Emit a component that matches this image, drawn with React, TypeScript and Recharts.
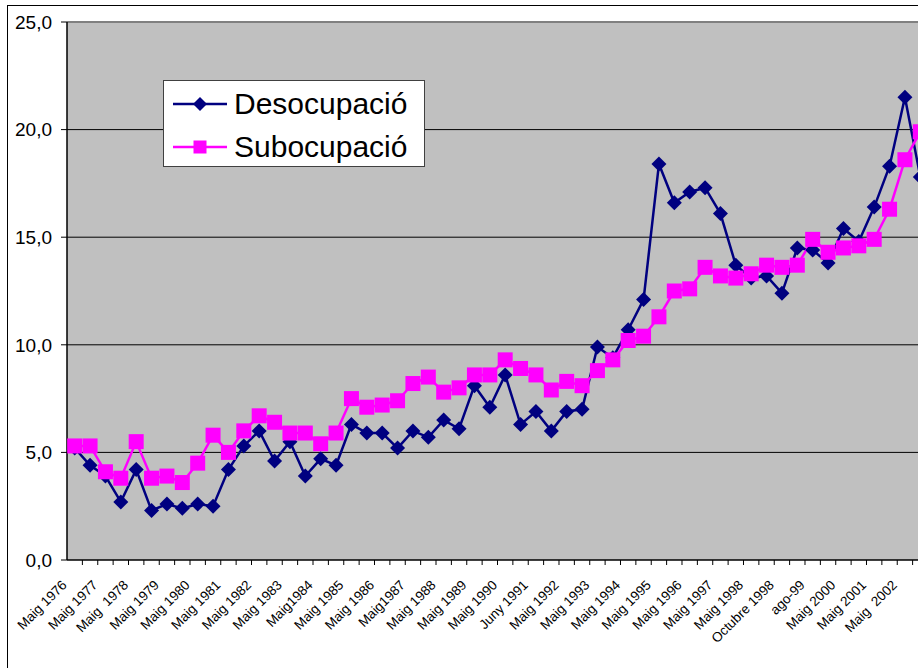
import React from "react";
import { LineChart, Line, XAxis, YAxis, CartesianGrid, ReferenceLine } from "recharts";

const periods = [
  "Maig 1976", "Octubre 1976", "Maig 1977", "Octubre 1977", "Maig  1978", "Octubre 1978",
  "Maig 1979", "Octubre 1979", "Maig 1980", "Octubre 1980", "Maig 1981", "Octubre 1981",
  "Maig 1982", "Octubre 1982", "Maig 1983", "Octubre 1983", "Maig1984", "Octubre 1984",
  "Maig 1985", "Octubre 1985", "Maig 1986", "Octubre 1986", "Maig1987", "Octubre 1987",
  "Maig 1988", "Octubre 1988", "Maig 1989", "Octubre 1989", "Maig 1990", "Octubre 1990",
  "Juny 1991", "Octubre 1991", "Maig 1992", "Octubre 1992", "Maig 1993", "Octubre 1993",
  "Maig 1994", "Octubre 1994", "Maig 1995", "Octubre 1995", "Maig 1996", "Octubre 1996",
  "Maig 1997", "Octubre 1997", "Maig 1998", "Agost 1998", "Octubre 1998", "Maig 1999",
  "ago-99", "Octubre 1999", "Maig 2000", "Octubre 2000", "Maig 2001", "Octubre 2001",
  "Maig  2002", "Octubre 2002",
];

const desocupacio = [
  5.2, 4.4, 3.9, 2.7, 4.2, 2.3, 2.6, 2.4, 2.6, 2.5, 4.2, 5.3, 6.0, 4.6, 5.5, 3.9,
  4.7, 4.4, 6.3, 5.9, 5.9, 5.2, 6.0, 5.7, 6.5, 6.1, 8.1, 7.1, 8.6, 6.3, 6.9, 6.0,
  6.9, 7.0, 9.9, 9.4, 10.7, 12.1, 18.4, 16.6, 17.1, 17.3, 16.1, 13.7, 13.1, 13.2,
  12.4, 14.5, 14.4, 13.8, 15.4, 14.8, 16.4, 18.3, 21.5, 17.8,
];

const subocupacio = [
  5.3, 5.3, 4.1, 3.8, 5.5, 3.8, 3.9, 3.6, 4.5, 5.8, 5.0, 6.0, 6.7, 6.4, 5.9, 5.9,
  5.4, 5.9, 7.5, 7.1, 7.2, 7.4, 8.2, 8.5, 7.8, 8.0, 8.6, 8.6, 9.3, 8.9, 8.6, 7.9,
  8.3, 8.1, 8.8, 9.3, 10.2, 10.4, 11.3, 12.5, 12.6, 13.6, 13.2, 13.1, 13.3, 13.7,
  13.6, 13.7, 14.9, 14.3, 14.5, 14.6, 14.9, 16.3, 18.6, 19.9,
];

const yTicks = [0, 5, 10, 15, 20, 25];

const data = periods.map((p, i) => ({ periode: p, des: desocupacio[i], sub: subocupacio[i] }));

const NAVY = "#000080";
const MAGENTA = "#FF00FF";
const FONT = "Arial, 'Liberation Sans', sans-serif";

const Diamond = (p: any) => {
  const { cx, cy, index } = p;
  if (cx == null || cy == null) return <g key={index} />;
  const r = 7.5;
  return (
    <polygon key={index} points={`${cx},${cy - r} ${cx + r},${cy} ${cx},${cy + r} ${cx - r},${cy}`} fill={NAVY} />
  );
};

const Square = (p: any) => {
  const { cx, cy, index } = p;
  if (cx == null || cy == null) return <g key={index} />;
  return <rect key={index} x={cx - 7.5} y={cy - 7.5} width={15} height={15} fill={MAGENTA} />;
};

// every category gets a tick mark on its right boundary (Excel style), every 2nd a rotated label
const XTick = ({ x, y, payload, index, width, visibleTicksCount }: any) => {
  const half = width / (2 * visibleTicksCount);
  const ax = x - 14;
  const ay = y + 19;
  return (
    <g>
      <line x1={x + half} y1={y} x2={x + half} y2={y + 5} stroke="#000" />
      {index % 2 === 0 && (
        <text
          x={ax}
          y={ay}
          dy="0.72em"
          textAnchor="end"
          transform={`rotate(-45 ${ax} ${ay})`}
          fontSize={13.5}
          fontFamily={FONT}
          fill="#000"
          style={{ whiteSpace: "pre" }}
        >
          {payload.value}
        </text>
      )}
    </g>
  );
};

const fmt = (v: number) => v.toFixed(1).replace(".", ",");

export default function App() {
  return (
    <div style={{ position: "absolute", left: 0, top: 0, width: 918, height: 668, overflow: "hidden", background: "#fff" }}>
      <div style={{ position: "absolute", left: 7, top: 5, width: 1000, height: 800, border: "1px solid #000" }} />
      <div style={{ position: "absolute", left: 0, top: 0 }}>
        <LineChart width={940} height={668} data={data} margin={{ top: 22, right: 12, bottom: 8, left: 7 }}>
          <CartesianGrid fill="#C0C0C0" vertical={false} horizontalValues={[5, 10, 15, 20]} stroke="#000" strokeOpacity={1} />
          <XAxis
            dataKey="periode"
            interval={0}
            height={100}
            padding={{ left: 7.69, right: 7.69 }}
            tickSize={0}
            tickMargin={0}
            tickLine={false}
            axisLine={{ stroke: "#000", strokeWidth: 1.5 }}
            tick={<XTick />}
          />
          <YAxis
            domain={[0, 25]}
            ticks={yTicks}
            width={60}
            tickSize={6}
            tickMargin={9}
            tickFormatter={fmt}
            tick={{ fontSize: 19, fill: "#000", fontFamily: FONT }}
            tickLine={{ stroke: "#000" }}
            axisLine={{ stroke: "#000", strokeWidth: 1.5 }}
          />
          <ReferenceLine y={25} stroke="#808080" strokeWidth={2} />
          <Line
            type="linear"
            dataKey="des"
            name="Desocupació"
            stroke={NAVY}
            strokeWidth={2.5}
            dot={Diamond}
            activeDot={false}
            isAnimationActive={false}
          />
          <Line
            type="linear"
            dataKey="sub"
            name="Subocupació"
            stroke={MAGENTA}
            strokeWidth={2.5}
            dot={Square}
            activeDot={false}
            isAnimationActive={false}
          />
        </LineChart>
      </div>
      <div
        style={{
          position: "absolute",
          left: 163,
          top: 80,
          width: 260,
          height: 85,
          background: "#fff",
          border: "1px solid #404040",
          fontFamily: FONT,
          fontSize: 30,
          color: "#000",
        }}
      >
        {[
          { name: "Desocupació", color: NAVY, shape: "diamond" },
          { name: "Subocupació", color: MAGENTA, shape: "square" },
        ].map((e, i) => (
          <div key={e.name} style={{ position: "absolute", left: 9, top: 8 + i * 43, height: 30, display: "flex", alignItems: "center" }}>
            <svg width={56} height={30} style={{ display: "block" }}>
              <line x1={0} y1={15} x2={54} y2={15} stroke={e.color} strokeWidth={2.5} />
              {e.shape === "diamond" ? (
                <polygon points="27,8 34,15 27,22 20,15" fill={e.color} />
              ) : (
                <rect x={20.5} y={8.5} width={13} height={13} fill={e.color} />
              )}
            </svg>
            <span style={{ marginLeft: 5, lineHeight: "30px", whiteSpace: "nowrap" }}>{e.name}</span>
          </div>
        ))}
      </div>
    </div>
  );
}
